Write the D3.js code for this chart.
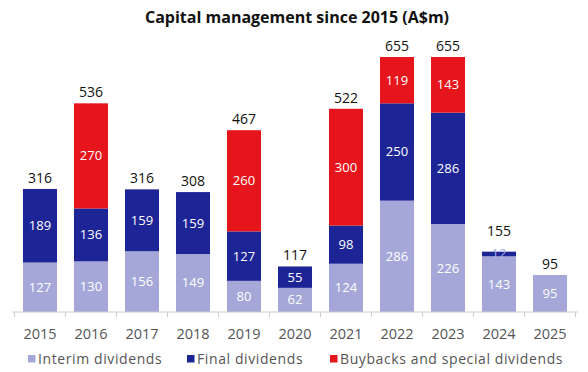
<!DOCTYPE html>
<html>
<head>
<meta charset="utf-8">
<script src="https://cdn.jsdelivr.net/npm/d3@7"></script>
<style>
  body { margin: 0; background: #fff; }
  text { font-family: "Open Sans", "Noto Sans", sans-serif; }
</style>
</head>
<body>
<div id="chart"></div>
<script>
// chart data
var years = ["2015", "2016", "2017", "2018", "2019", "2020", "2021", "2022", "2023", "2024", "2025"];
var interim = [127, 130, 156, 149, 80, 62, 124, 286, 226, 143, 95];
var finals = [189, 136, 159, 159, 127, 55, 98, 250, 286, 12, 0];
var buybacks = [0, 270, 0, 0, 260, 0, 300, 119, 143, 0, 0];
var totals = [316, 536, 316, 308, 467, 117, 522, 655, 655, 155, 95];
var seriesNames = ["Interim dividends", "Final dividends", "Buybacks and special dividends"];
var colors = ["#a4a7d8", "#1c2496", "#e6141b"];

var width = 588, height = 372;
var svg = d3.select("#chart").append("svg")
    .attr("width", width)
    .attr("height", height);

var rows = years.map(function (y, i) {
    return { year: y, interim: interim[i], finals: finals[i], buybacks: buybacks[i], total: totals[i] };
});

var x = d3.scaleBand()
    .domain(years)
    .range([14.5, 575.5])
    .paddingInner(0.333)
    .paddingOuter(0.166);

var y = d3.scaleLinear()
    .domain([0, 655])
    .range([312, 57]);

var stack = d3.stack().keys(["interim", "finals", "buybacks"]);
var layers = stack(rows);

// title
svg.append("text")
    .attr("x", 297)
    .attr("y", 23)
    .attr("text-anchor", "middle")
    .style("font-size", "16px")
    .style("font-weight", "bold")
    .style("fill", "#111")
    .text("Capital management since 2015 (A$m)");

// bars
var g = svg.selectAll(".layer")
    .data(layers)
    .enter().append("g")
    .attr("fill", function (d, i) { return colors[i]; });

g.selectAll("rect")
    .data(function (d) { return d; })
    .enter().append("rect")
    .attr("x", function (d) { return x(d.data.year); })
    .attr("y", function (d) { return y(d[1]); })
    .attr("width", x.bandwidth())
    .attr("height", function (d) { return y(d[0]) - y(d[1]); });

// segment labels
g.selectAll("text")
    .data(function (d) { return d.filter(function (e) { return e[1] - e[0] > 0; }); })
    .enter().append("text")
    .attr("x", function (d) { return x(d.data.year) + x.bandwidth() / 2; })
    .attr("y", function (d) { return (y(d[0]) + y(d[1])) / 2 + 4.5; })
    .attr("text-anchor", "middle")
    .style("font-size", "13px")
    .style("fill", function (d) { return d[1] - d[0] < 20 ? "#aeb1e0" : "#fff"; })
    .text(function (d) { return d[1] - d[0]; });

// totals (pushed up a bit when the top segment is too thin for its label)
svg.selectAll(".total")
    .data(rows)
    .enter().append("text")
    .attr("class", "total")
    .attr("x", function (d) { return x(d.year) + x.bandwidth() / 2; })
    .attr("y", function (d) {
        var top = d.buybacks || d.finals || d.interim;
        return y(d.total) - (top < 20 ? 16 : 6);
    })
    .attr("text-anchor", "middle")
    .style("font-size", "14px")
    .style("fill", "#111")
    .text(function (d) { return d.total; });

// x axis
var axis = svg.append("g")
    .attr("transform", "translate(0,312)");
axis.append("line")
    .attr("x1", 12).attr("x2", 578)
    .attr("stroke", "#ccc");
var edges = years.map(function (yr) { return x(yr) - x.step() * x.paddingInner() / 2; });
edges.push(x("2025") + x.bandwidth() + x.step() * x.paddingInner() / 2);
axis.selectAll(".tick")
    .data(edges)
    .enter().append("line")
    .attr("x1", function (d) { return d; })
    .attr("x2", function (d) { return d; })
    .attr("y1", 0).attr("y2", 5)
    .attr("stroke", "#ccc");
axis.selectAll(".lab")
    .data(years)
    .enter().append("text")
    .attr("x", function (d) { return x(d) + x.bandwidth() / 2; })
    .attr("y", 27)
    .attr("text-anchor", "middle")
    .style("font-size", "14.5px")
    .style("fill", "#555")
    .text(function (d) { return d; });

// legend
var legendX = [28, 187, 330];
var leg = svg.selectAll(".legend")
    .data(seriesNames)
    .enter().append("g")
    .attr("transform", function (d, i) { return "translate(" + legendX[i] + ",355)"; });
leg.append("rect")
    .attr("width", 7.5).attr("height", 7.5)
    .attr("fill", function (d, i) { return colors[i]; });
leg.append("text")
    .attr("x", 10)
    .attr("y", 8.5)
    .style("font-size", "14px")
    .style("letter-spacing", "0.6px")
    .style("fill", "#555")
    .text(function (d) { return d; });
</script>
</body>
</html>
